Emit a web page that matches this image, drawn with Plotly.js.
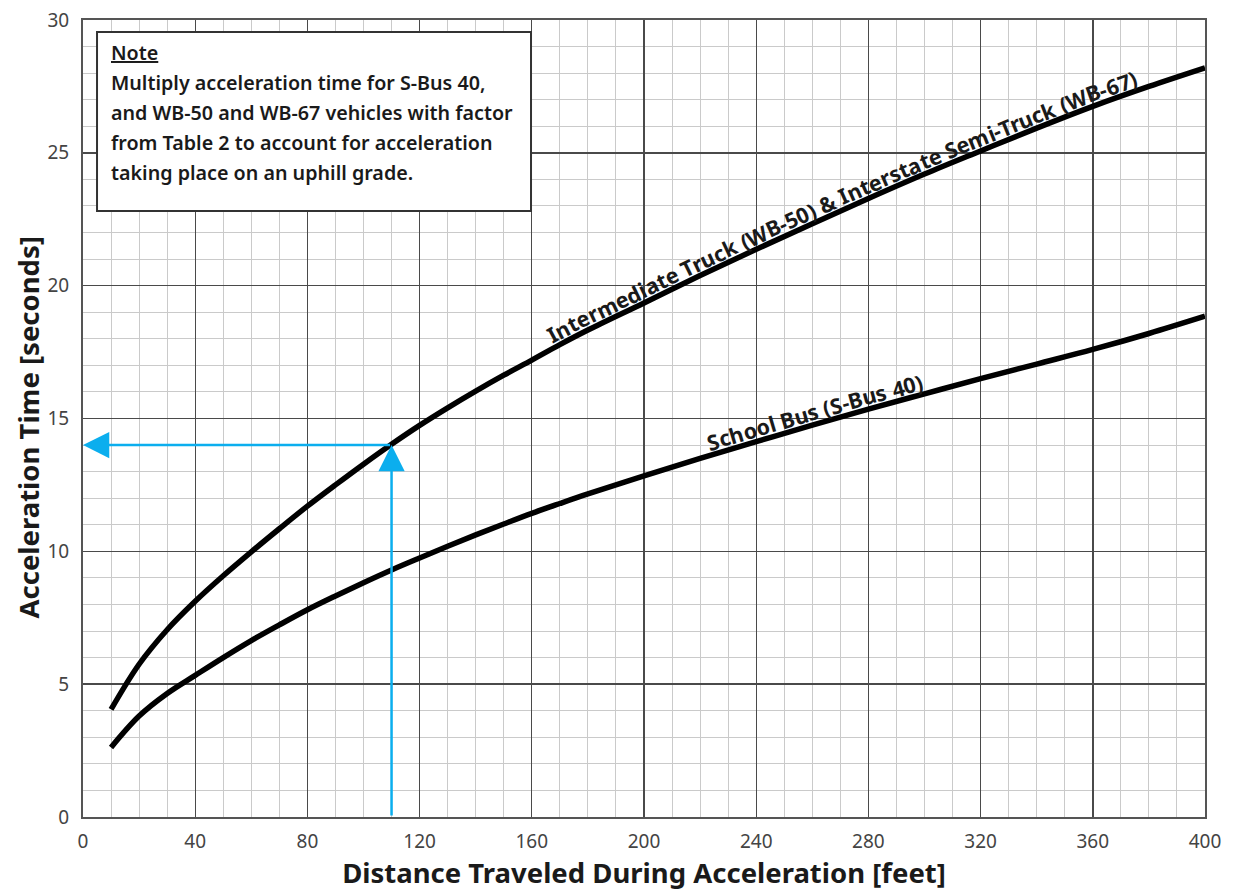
<!DOCTYPE html>
<html>
<head>
<meta charset="utf-8">
<script src="https://cdn.plot.ly/plotly-3.0.1.min.js"></script>
<style>html,body{margin:0;padding:0;background:#fff;}#chart{width:1240px;height:896px;}</style>
</head>
<body>
<div id="chart"></div>
<script>
// Distance traveled during acceleration [feet] vs acceleration time [seconds]
const truckDistance = [10, 20, 30, 40, 50, 60, 70, 80, 90, 100, 110, 120, 130, 140, 150, 160, 170, 180, 200, 220, 240, 260, 280, 300, 320, 340, 360, 380, 400];
const truckTime     = [4.05, 5.75, 7.05, 8.12, 9.08, 9.98, 10.85, 11.7, 12.5, 13.28, 14.03, 14.74, 15.4, 16.03, 16.63, 17.2, 17.78, 18.33, 19.35, 20.38, 21.37, 22.33, 23.28, 24.2, 25.07, 25.93, 26.75, 27.5, 28.2];
const busDistance   = [10, 20, 30, 40, 50, 60, 70, 80, 90, 100, 110, 120, 130, 140, 150, 160, 170, 180, 200, 220, 240, 260, 280, 300, 320, 340, 360, 380, 400];
const busTime       = [2.62, 3.8, 4.65, 5.33, 6.0, 6.64, 7.23, 7.8, 8.32, 8.82, 9.3, 9.75, 10.19, 10.62, 11.03, 11.43, 11.8, 12.16, 12.84, 13.5, 14.13, 14.75, 15.35, 15.93, 16.5, 17.05, 17.6, 18.2, 18.85];

const xTickVals = [0, 40, 80, 120, 160, 200, 240, 280, 320, 360, 400];
const yTickVals = [0, 5, 10, 15, 20, 25, 30];

const exampleDistance = 110;
const exampleTime = 14;

const truckLabel = "Intermediate Truck (WB-50) & Interstate Semi-Truck (WB-67)";
const busLabel = "School Bus (S-Bus 40)";
const truckLabelStart = 168;   // feet, where the label text begins along the curve
const busLabelStart = 224;

const noteLines = [
  '<span style="text-decoration:underline">Note</span>',
  'Multiply acceleration time for S-Bus 40,',
  'and WB-50 and WB-67 vehicles with factor',
  'from Table 2 to account for acceleration',
  'taking place on an uphill grade.'
];

const xTitle = "Distance Traveled During Acceleration [feet]";
const yTitle = "Acceleration Time [seconds]";

const FONT = "Noto Sans, Open Sans, sans-serif";
const BLUE = "#0BAEEE";
const LABEL_SIZE = 21.5;

const traces = [
  {x: truckDistance, y: truckTime, mode: 'lines', line: {color: '#000', width: 5.5, shape: 'spline', smoothing: 1}, hoverinfo: 'skip'},
  {x: busDistance, y: busTime, mode: 'lines', line: {color: '#000', width: 5.5, shape: 'spline', smoothing: 1}, hoverinfo: 'skip'}
];

const baseAnnotations = [];
baseAnnotations.push({x: exampleDistance, y: exampleTime, ax: exampleDistance, ay: 0, xref: 'x', yref: 'y', axref: 'x', ayref: 'y',
  showarrow: true, arrowhead: 2, arrowsize: 2.1, arrowwidth: 2.5, arrowcolor: BLUE, text: '', standoff: 0});
baseAnnotations.push({x: 0, y: exampleTime, ax: exampleDistance, ay: exampleTime, xref: 'x', yref: 'y', axref: 'x', ayref: 'y',
  showarrow: true, arrowhead: 2, arrowsize: 2.1, arrowwidth: 2.5, arrowcolor: BLUE, text: '', standoff: 0});
const noteTop = 0.9586;
const noteStep = 0.0374;
noteLines.forEach((t, i) => {
  baseAnnotations.push({x: 0.0229, y: noteTop - i * noteStep, xref: 'paper', yref: 'paper', xanchor: 'left', yanchor: 'middle',
    text: t, showarrow: false, align: 'left', font: {family: FONT, size: 19.7, color: '#1a1a1a', weight: 600}});
});
// y-axis title as annotation (for exact placement)
baseAnnotations.push({x: 0, y: 0.5, xref: 'paper', yref: 'paper', xanchor: 'center', yanchor: 'middle', xshift: -55, yshift: -9,
  text: yTitle, textangle: -90, showarrow: false, font: {family: FONT, size: 27.5, color: '#1a1a1a', weight: 700}});

const layout = {
  width: 1240, height: 896,
  margin: {l: 83, r: 35, t: 20, b: 79},
  paper_bgcolor: '#fff', plot_bgcolor: '#fff',
  showlegend: false,
  font: {family: FONT, color: '#444'},
  xaxis: {
    range: [0, 400], tickvals: xTickVals, ticktext: xTickVals.map(String),
    showgrid: true, gridcolor: '#4a4a4a', gridwidth: 1.4,
    minor: {dtick: 10, showgrid: true, gridcolor: '#cacaca', gridwidth: 1},
    zeroline: false, showline: true, mirror: true, linecolor: '#555', linewidth: 2,
    ticks: '', ticklabelstandoff: 6,
    tickfont: {family: FONT, size: 19, color: '#444'},
    title: {text: xTitle, font: {family: FONT, size: 27.5, color: '#1a1a1a', weight: 700}, standoff: 10}
  },
  yaxis: {
    range: [0, 30], tickvals: yTickVals, ticktext: yTickVals.map(String),
    showgrid: true, gridcolor: '#4a4a4a', gridwidth: 1.4,
    minor: {dtick: 1, showgrid: true, gridcolor: '#cacaca', gridwidth: 1},
    zeroline: false, showline: true, mirror: true, linecolor: '#555', linewidth: 2,
    ticks: '', ticklabelstandoff: 8,
    tickfont: {family: FONT, size: 19, color: '#444'}
  },
  shapes: [
    {type: 'rect', xref: 'paper', yref: 'paper', x0: 0.0125, x1: 0.3993, y0: 0.7603, y1: 0.985,
      line: {color: '#333', width: 2}, fillcolor: '#fff', layer: 'above'}
  ],
  annotations: baseAnnotations
};

const gd = document.getElementById('chart');

function curveText(xs, ys, text, startFt, size, gd) {
  const xa = gd._fullLayout.xaxis, ya = gd._fullLayout.yaxis;
  // dense pixel polyline from data (linear interpolation between read points)
  const pts = [];
  for (let i = 0; i < xs.length - 1; i++) {
    for (let k = 0; k < 20; k++) {
      const t = k / 20;
      pts.push([xa.l2p(xs[i] + (xs[i+1] - xs[i]) * t), ya.l2p(ys[i] + (ys[i+1] - ys[i]) * t)]);
    }
  }
  pts.push([xa.l2p(xs[xs.length-1]), ya.l2p(ys[ys.length-1])]);
  const cum = [0];
  for (let i = 1; i < pts.length; i++) cum.push(cum[i-1] + Math.hypot(pts[i][0]-pts[i-1][0], pts[i][1]-pts[i-1][1]));
  function at(s) {
    let i = 1;
    while (i < cum.length - 1 && cum[i] < s) i++;
    const f = (s - cum[i-1]) / (cum[i] - cum[i-1] || 1);
    return [pts[i-1][0] + (pts[i][0]-pts[i-1][0]) * f, pts[i-1][1] + (pts[i][1]-pts[i-1][1]) * f];
  }
  // arc position of the start
  const sx = xa.l2p(startFt);
  let s0 = 0;
  for (let i = 0; i < pts.length; i++) { if (pts[i][0] >= sx) { s0 = cum[i]; break; } }
  const ctx = document.createElement('canvas').getContext('2d');
  ctx.font = '700 ' + size + 'px "Noto Sans"';
  const offset = 4.2 + 0.39 * size;
  const out = [];
  for (let i = 0; i < text.length; i++) {
    const ch = text[i];
    if (ch === ' ') continue;
    const a = ctx.measureText(text.slice(0, i)).width;
    const b = ctx.measureText(text.slice(0, i + 1)).width;
    const s = s0 + (a + b) / 2;
    const p = at(s), p1 = at(s - 6), p2 = at(s + 6);
    const th = Math.atan2(p2[1] - p1[1], p2[0] - p1[0]);
    const nx = Math.sin(th), ny = -Math.cos(th);
    out.push({x: xa.p2l(p[0] + nx * offset), y: ya.p2l(p[1] + ny * offset), xref: 'x', yref: 'y',
      xanchor: 'center', yanchor: 'middle', text: ch, showarrow: false, textangle: th * 180 / Math.PI,
      borderpad: 0, font: {family: FONT, size: size, color: '#1a1a1a', weight: 700}});
  }
  return out;
}

Plotly.newPlot(gd, traces, layout, {staticPlot: true}).then(() => {
  const labels = curveText(truckDistance, truckTime, truckLabel, truckLabelStart, LABEL_SIZE, gd)
    .concat(curveText(busDistance, busTime, busLabel, busLabelStart, LABEL_SIZE, gd));
  return Plotly.relayout(gd, {annotations: baseAnnotations.concat(labels)});
});
</script>
</body>
</html>
